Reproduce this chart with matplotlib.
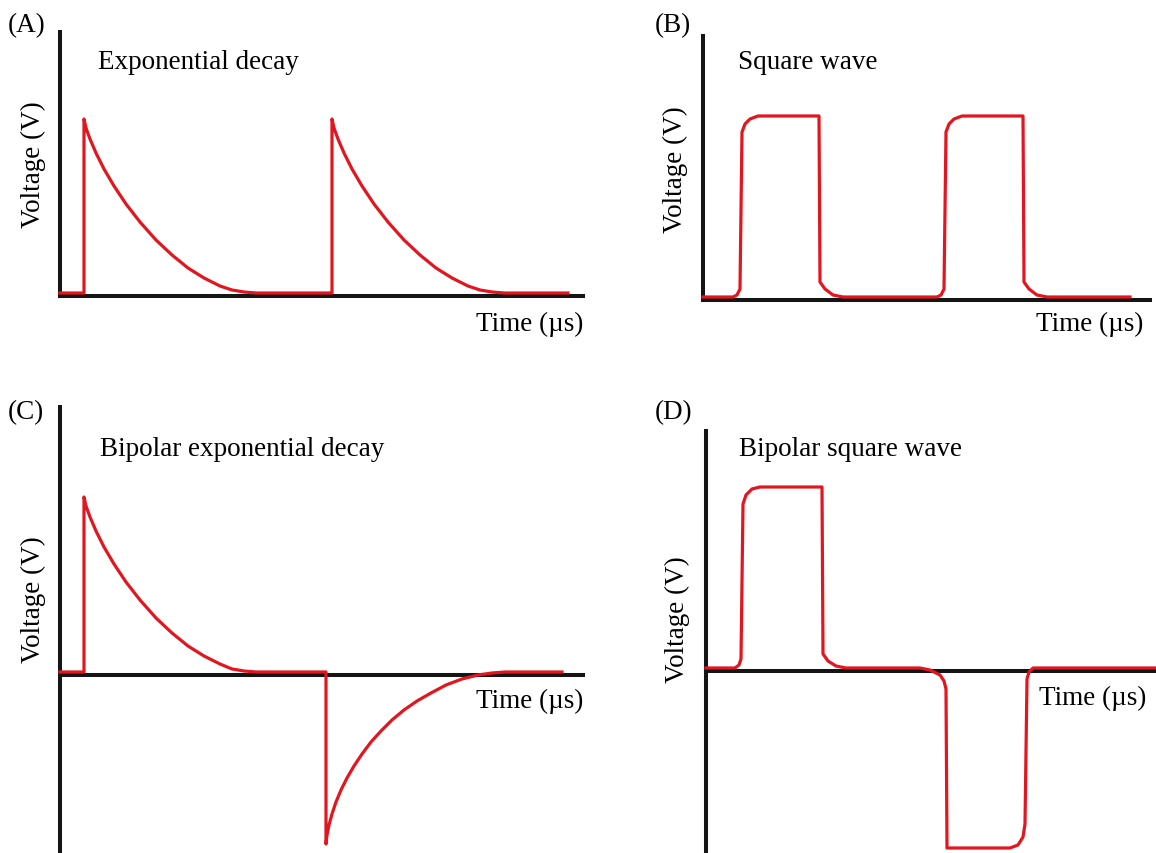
import matplotlib
matplotlib.use('Agg')
import matplotlib.pyplot as plt

# ---------- data (time / voltage, arbitrary units) ----------
# (A) exponential decay, two pulses
exp_t = [0, 24, 24, 26, 30, 36, 44, 54, 66, 80, 96, 112, 128, 144, 160, 172, 184, 196, 270,
         272, 272, 274, 278, 284, 292, 302, 314, 328, 344, 360, 376, 392, 408, 420, 432, 444, 508]
exp_v = [3, 3, 177, 168, 157, 143, 127, 110, 92, 74, 56, 41, 28, 18, 10, 6, 4, 3, 3,
         3, 177, 168, 157, 143, 127, 110, 92, 74, 56, 41, 28, 18, 10, 6, 4, 3, 3]

# (B) square wave, two pulses
sq_t = [0, 30, 34, 37, 39, 42, 47, 55, 116, 117, 122, 130, 140,
        234, 238, 241, 243, 246, 251, 259, 320, 321, 326, 334, 344, 427]
sq_v = [3, 3, 5, 11, 168, 176, 181, 184, 184, 18, 11, 5, 3,
        3, 5, 11, 168, 176, 181, 184, 184, 18, 11, 5, 3, 3]

# (C) bipolar exponential decay
bexp_t = [0, 24, 24, 26, 30, 36, 44, 54, 66, 80, 96, 112, 128, 144, 160, 172, 184, 196, 266,
          266, 267, 269, 272, 276, 281, 287, 294, 302, 311, 321, 332, 344, 357, 371, 386,
          402, 418, 432, 445, 502]
bexp_v = [3, 3, 178, 169, 158, 144, 128, 111, 93, 75, 57, 42, 29, 19, 11, 6, 4, 3, 3,
          -169, -160, -150, -139, -127, -115, -103, -91, -79, -67, -56, -45, -35, -26, -18, -10,
          -4, 0, 2, 3, 3]

# (D) bipolar square wave
bsq_t = [0, 29, 33, 35, 37, 40, 46, 54, 116, 117, 122, 130, 140, 214, 224,
         234, 238, 240, 241, 304, 312, 317, 319, 321, 323, 327, 450]
bsq_v = [3, 3, 6, 12, 167, 176, 182, 184, 184, 17, 10, 5, 3, 3, 1,
         -4, -10, -18, -177, -177, -174, -166, -153, -8, -1, 3, 3]

panels = [
    # label, title, t, v, axes box in px (x0, y_top, x1, y_bottom), ylim, text positions
    dict(tag='(A)', title='Exponential decay', t=exp_t, v=exp_v,
         box=(60, 33, 583, 297), ylim=(0, 264),
         tag_xy=(8, 32), title_xy=(98, 69), volt_xy=(33, 165), time_xy=(583, 331)),
    dict(tag='(B)', title='Square wave', t=sq_t, v=sq_v,
         box=(703, 37, 1150, 301), ylim=(0, 264),
         tag_xy=(655, 32), title_xy=(738, 69), volt_xy=(675, 170), time_xy=(1143, 331)),
    dict(tag='(C)', title='Bipolar exponential decay', t=bexp_t, v=bexp_v,
         box=(60, 408, 583, 854), ylim=(-178, 268),
         tag_xy=(8, 419), title_xy=(100, 456), volt_xy=(33, 600), time_xy=(583, 708)),
    dict(tag='(D)', title='Bipolar square wave', t=bsq_t, v=bsq_v,
         box=(706, 432, 1156, 854), ylim=(-182, 240),
         tag_xy=(655, 419), title_xy=(739, 456), volt_xy=(677, 620), time_xy=(1146, 705)),
]

W, H = 1156, 854
RED = '#e3161f'
AXIS = '#151515'
FS = 19.5

plt.rcParams['font.family'] = ['Liberation Serif', 'DejaVu Serif']

fig = plt.figure(figsize=(W / 100, H / 100), dpi=100)

for p in panels:
    x0, yt, x1, yb = p['box']
    ax = fig.add_axes([x0 / W, 1 - yb / H, (x1 - x0) / W, (yb - yt) / H])
    ax.plot(p['t'], p['v'], color=RED, linewidth=2.3, solid_joinstyle='round',
            clip_on=False, zorder=3)
    ax.set_xlim(0, x1 - x0)
    ax.set_ylim(*p['ylim'])
    ax.spines['top'].set_visible(False)
    ax.spines['right'].set_visible(False)
    ax.spines['bottom'].set_position(('data', 0))
    for s in ('left', 'bottom'):
        ax.spines[s].set_linewidth(2.9)
        ax.spines[s].set_color(AXIS)
        ax.spines[s].set_zorder(2)
    ax.set_xticks([])
    ax.set_yticks([])
    ax.patch.set_alpha(0)

    fig.text(p['tag_xy'][0] / W, 1 - p['tag_xy'][1] / H, p['tag'],
             fontsize=FS, ha='left', va='baseline')
    fig.text(p['title_xy'][0] / W, 1 - p['title_xy'][1] / H, p['title'],
             fontsize=FS, ha='left', va='baseline')
    fig.text(p['volt_xy'][0] / W, 1 - p['volt_xy'][1] / H, 'Voltage (V)',
             fontsize=FS, rotation=90, ha='center', va='center')
    fig.text(p['time_xy'][0] / W, 1 - p['time_xy'][1] / H, 'Time (µs)',
             fontsize=FS, ha='right', va='baseline')

fig.savefig('out.png', dpi=100)
